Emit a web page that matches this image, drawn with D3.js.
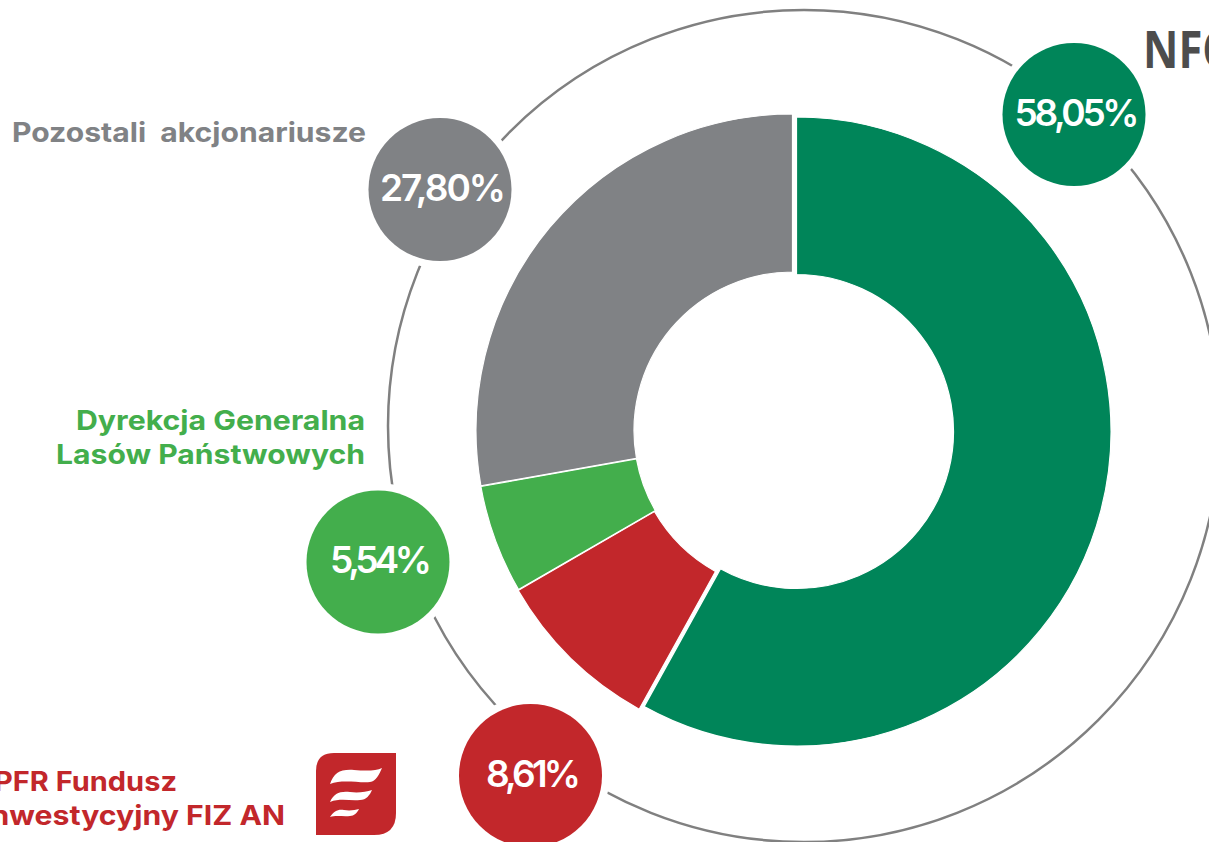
<!DOCTYPE html>
<html><head><meta charset="utf-8">
<script src="https://cdn.jsdelivr.net/npm/d3@7"></script>
<style>
html,body{margin:0;padding:0;background:#fff;overflow:hidden}
svg{display:block}
text{font-family:Inter,"Open Sans",sans-serif}
</style></head><body>
<svg id="c" width="1209" height="842"></svg>
<script>
const names=["NFOŚiGW","PFR","DGLP","Pozostali"];
const values=[58.05,8.61,5.54,27.80];
const valueLabels=["58,05%","8,61%","5,54%","27,80%"];
const colors=["#008559","#c2272b","#43ae4c","#808285"];
const ringColor="#808080";

const svg=d3.select("#c");

// outer ring
const ring={x:804,y:426,r:416};
svg.append("circle").attr("cx",ring.x).attr("cy",ring.y).attr("r",ring.r)
  .attr("fill","none").attr("stroke",ringColor).attr("stroke-width",2.5);

// donut: each slice has slightly different placement in the original
const pie=d3.pie().value(d=>d).sort(null)(values);
const geom=[
  {x:796.5,y:431.5,ro:314.5,ri:157},
  {x:793,y:431.5,ro:317.5,ri:160},
  {x:793,y:431,ro:317,ri:159},
  {x:792.5,y:430.5,ro:316.5,ri:158.5}
];
svg.selectAll("path.slice").data(pie).join("path").attr("class","slice")
  .attr("transform",(d,i)=>`translate(${geom[i].x},${geom[i].y})`)
  .attr("d",(d,i)=>d3.arc().innerRadius(geom[i].ri).outerRadius(geom[i].ro)(d))
  .attr("fill",(d,i)=>colors[i])
  .attr("stroke","#fff").attr("stroke-width",1.2).attr("stroke-linejoin","miter");

// bubbles
const bubbles=[{x:1074,y:114.5},{x:530.5,y:775.5},{x:378,y:562},{x:440,y:189.5}];
const widths=[125,95,102,126];
svg.selectAll("circle.halo").data(bubbles).join("circle").attr("class","halo")
  .attr("cx",d=>d.x).attr("cy",d=>d.y).attr("r",79).attr("fill","#fff");
svg.selectAll("circle.bub").data(bubbles).join("circle").attr("class","bub")
  .attr("cx",d=>d.x).attr("cy",d=>d.y).attr("r",71.5).attr("fill",(d,i)=>colors[i]);
svg.selectAll("text.val").data(bubbles).join("text").attr("class","val")
  .attr("x",d=>d.x+3).attr("y",d=>d.y+11).attr("text-anchor","middle")
  .attr("font-size",37).attr("font-weight",600).attr("fill","#fff")
  .attr("textLength",(d,i)=>widths[i]).attr("lengthAdjust","spacing")
  .text((d,i)=>valueLabels[i]);

// side labels
const labels=[
 {t:"Pozostali  akcjonariusze",x:12,y:142,w:354,c:colors[3]},
 {t:"Dyrekcja Generalna",x:76,y:430,w:289,c:colors[2]},
 {t:"Lasów Państwowych",x:56,y:464,w:309,c:colors[2]},
 {t:"PFR Fundusz",x:-6,y:791,w:183,c:colors[1]},
 {t:"Inwestycyjny FIZ AN",x:-18,y:825,w:303,c:colors[1]}
];
svg.selectAll("text.lab").data(labels).join("text").attr("class","lab")
  .attr("x",d=>d.x).attr("y",d=>d.y).attr("font-size",27).attr("font-weight",700)
  .attr("fill",d=>d.c).style("white-space","pre")
  .attr("textLength",d=>d.w).attr("lengthAdjust","spacingAndGlyphs").text(d=>d.t);

// NFOŚiGW wordmark, cut by the page edge
svg.append("text").attr("x",1143).attr("y",68).attr("font-size",52)
  .attr("font-weight",700).attr("fill","#4d4d4d")
  .attr("textLength",205).attr("lengthAdjust","spacingAndGlyphs")
  .style("font-family","'Open Sans',sans-serif").text("NFOŚiGW");

// PFR logo
const logo=svg.append("g").attr("transform","translate(316,753)");
logo.append("path").attr("fill",colors[1])
  .attr("d","M18,0H80V60Q80,82 58,82H0V18Q0,0 18,0Z");
[
 "M14,31C18,20 24,16 38,17C50,18 60,18 66,15C63,22 60,28 54,29C42,30 26,26 14,31Z",
 "M14,49C18,40 24,38 34,39C42,40 50,39 56,37C54,42 50,47 44,47C34,48 24,45 14,49Z",
 "M14,64C18,58 22,56 28,57C34,58 39,57 43,56C41,60 38,63 34,63C28,64 20,62 14,64Z"
].forEach(d=>logo.append("path").attr("fill","#fff").attr("d",d));
</script>
</body></html>
